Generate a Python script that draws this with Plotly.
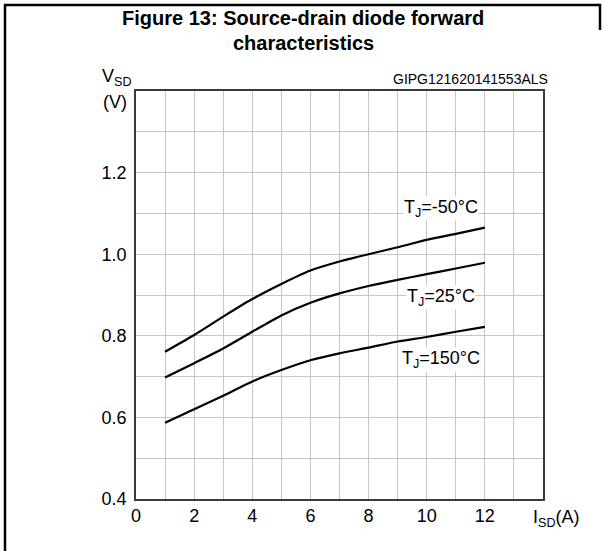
import plotly.graph_objects as go

# Data
i_sd = [1, 2, 3, 4, 5, 6, 7, 8, 9, 10, 11, 12]
v_m50 = [0.761, 0.802, 0.847, 0.890, 0.927, 0.960, 0.982, 1.000, 1.017, 1.035, 1.050, 1.065]
v_25 = [0.698, 0.733, 0.769, 0.810, 0.850, 0.881, 0.904, 0.922, 0.937, 0.951, 0.965, 0.979]
v_150 = [0.587, 0.620, 0.653, 0.688, 0.716, 0.740, 0.757, 0.771, 0.786, 0.797, 0.810, 0.822]

series_names = ["T<sub>J</sub>=-50°C", "T<sub>J</sub>=25°C", "T<sub>J</sub>=150°C"]
series_vals = [v_m50, v_25, v_150]
label_pos = [(10.5, 1.112), (10.5, 0.893), (10.5, 0.743)]

x_ticks = [0, 2, 4, 6, 8, 10, 12]
x_minor = [1, 3, 5, 7, 9, 11, 13]
y_ticks = [0.4, 0.6, 0.8, 1.0, 1.2]
y_minor = [0.5, 0.7, 0.9, 1.1, 1.3]

FONT = "Liberation Sans, Arial, sans-serif"
GRID = "#c6c6c6"

W, H = 605, 551
L, R, T, B = 136, 62, 91, 52


def px(xp, yp):
    return (xp - L) / (W - L - R), (H - B - yp) / (H - T - B)


fig = go.Figure()
for name, vals in zip(series_names, series_vals):
    fig.add_trace(go.Scatter(x=i_sd, y=vals, mode="lines", name=name,
                             line=dict(color="black", width=2.2, shape="spline", smoothing=0.6),
                             showlegend=False, hoverinfo="skip"))

for name, (lx, ly) in zip(series_names, label_pos):
    fig.add_annotation(x=lx, y=ly, xref="x", yref="y", text=name, showarrow=False,
                       font=dict(family=FONT, size=18, color="black"),
                       bgcolor="white", borderpad=0)

axis_common = dict(showline=True, linecolor="#3a3a3a", linewidth=1.5, mirror=True,
                   showgrid=True, gridcolor=GRID, gridwidth=1, zeroline=False,
                   ticks="", tickfont=dict(family=FONT, size=18, color="black"))

fig.update_xaxes(range=[0, 14], tickmode="array", tickvals=x_ticks,
                 ticktext=[str(v) for v in x_ticks],
                 minor=dict(tickmode="array", tickvals=x_minor, showgrid=True,
                            gridcolor=GRID, gridwidth=1, ticks=""),
                 **axis_common)
fig.update_yaxes(range=[0.4, 1.4], tickmode="array", tickvals=y_ticks,
                 ticktext=["%.1f" % v for v in y_ticks],
                 minor=dict(tickmode="array", tickvals=y_minor, showgrid=True,
                            gridcolor=GRID, gridwidth=1, ticks=""),
                 ticklabelstandoff=4,
                 **axis_common)

annos = [
    ("<b>Figure 13: Source-drain diode forward</b>", 303, 18, 20, "center"),
    ("<b>characteristics</b>", 303, 43, 20, "center"),
    ("V<sub>SD</sub>", 117, 78, 18, "center"),
    ("(V)", 115, 102, 18, "center"),
    ("GIPG121620141553ALS", 550, 79, 14, "right"),
    ("I<sub>SD</sub>(A)", 556, 518, 18, "center"),
]
for text, xp, yp, size, align in annos:
    ax, ay = px(xp, yp)
    fig.add_annotation(x=ax, y=ay, xref="paper", yref="paper", text=text, showarrow=False,
                       xanchor=align, yanchor="middle",
                       font=dict(family=FONT, size=size, color="black"))

# Frame lines around the figure cell
fig.add_shape(type="line", xref="paper", yref="paper", x0=px(5, 0)[0], x1=px(5, 0)[0],
              y0=px(0, 4)[1], y1=px(0, 551)[1], line=dict(color="black", width=2.5))
fig.add_shape(type="line", xref="paper", yref="paper", x0=px(4, 0)[0], x1=px(601, 0)[0],
              y0=px(0, 5)[1], y1=px(0, 5)[1], line=dict(color="black", width=2.5))
fig.add_shape(type="line", xref="paper", yref="paper", x0=px(600, 0)[0], x1=px(600, 0)[0],
              y0=px(0, 4)[1], y1=px(0, 30)[1], line=dict(color="black", width=2.5))

fig.update_layout(width=W, height=H, margin=dict(l=L, r=R, t=T, b=B),
                  paper_bgcolor="white", plot_bgcolor="white", showlegend=False)

fig.write_html("out.html")
